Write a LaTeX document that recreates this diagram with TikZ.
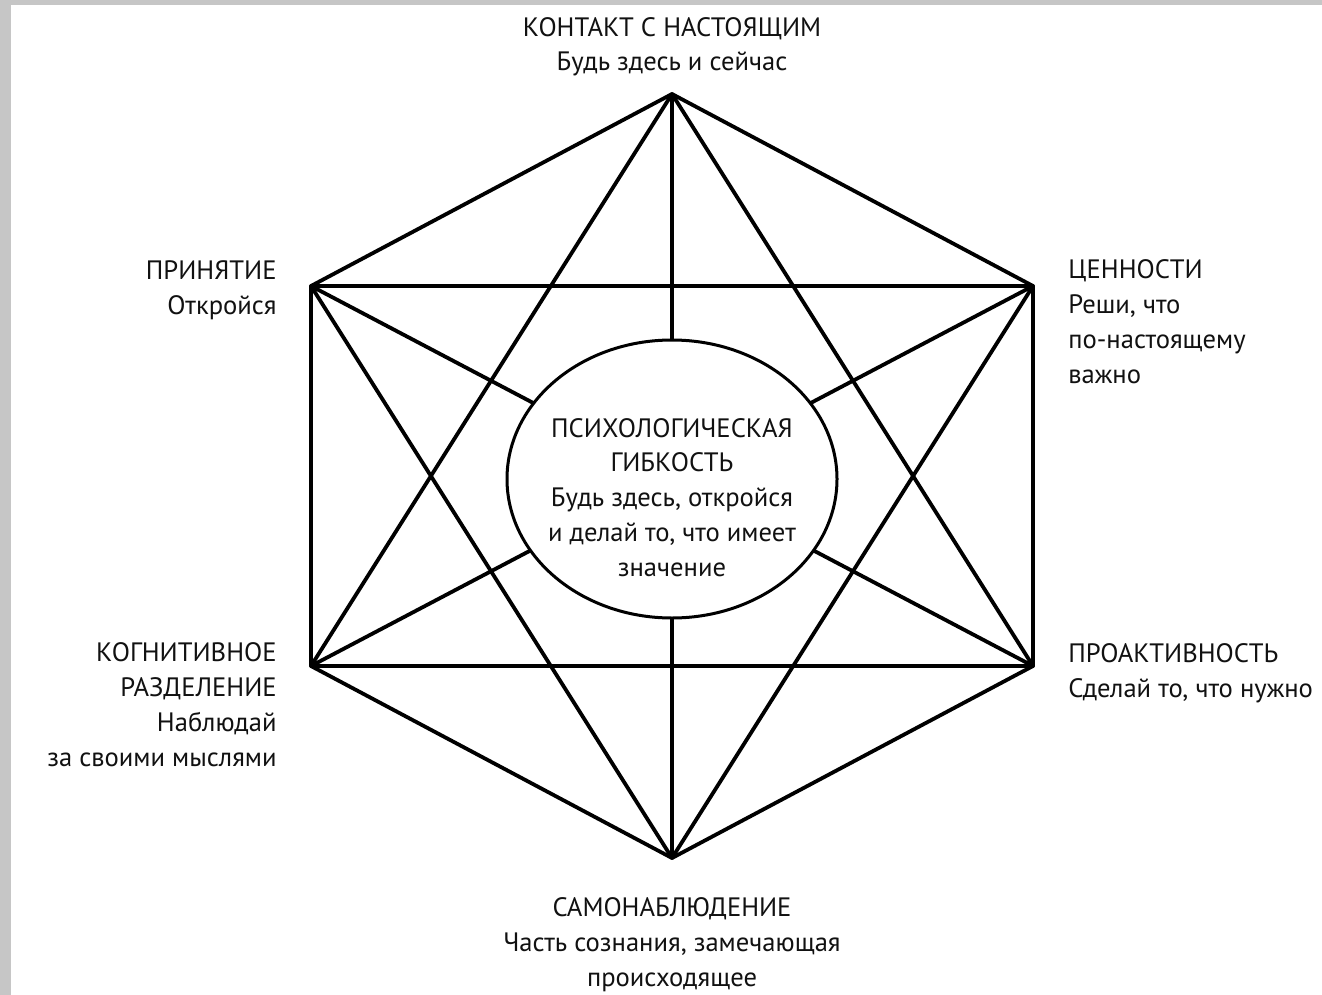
\documentclass[tikz,border=0pt]{standalone}
\usepackage{fontspec}
\setmainfont{PT Sans}
\usetikzlibrary{shapes.geometric}
\definecolor{barg}{HTML}{C6C6C6}
\definecolor{ink}{HTML}{111111}
\begin{document}
\begin{tikzpicture}[x=0.5pt,y=-0.5pt,
  edge/.style={line width=1.9pt, line cap=round, line join=round, draw=black},
  lbl/.style={inner sep=0pt, text=ink, font=\fontsize{13.3}{17.35}\selectfont},
  core/.style={ellipse, draw=black, fill=white, line width=1.5pt, minimum width=165pt, minimum height=139pt, inner sep=0pt}]
\useasboundingbox (0,0) rectangle (1322,995);
\fill[white] (0,0) rectangle (1322,995);
\fill[barg] (0,0) rectangle (11,995);
\fill[barg] (0,0) rectangle (1322,5);
% vertices
\coordinate (T) at (672,94);
\coordinate (UR) at (1033,286);
\coordinate (LR) at (1033,666);
\coordinate (B) at (672,858);
\coordinate (LL) at (311,666);
\coordinate (UL) at (311,286);
% hexagon
\draw[edge] (T)--(UR)--(LR)--(B)--(LL)--(UL)--cycle;
% short diagonals
\draw[edge] (T)--(LR) (T)--(LL) (UR)--(UL) (UR)--(B) (LR)--(LL) (B)--(UL);
% long diagonals (under the ellipse)
\draw[edge] (T)--(B) (UR)--(LL) (UL)--(LR);
% centre
\node[core] (c) at (672,479) {};
\node[lbl, align=center, anchor=base] (ctext) at (672,576)
  {ПСИХОЛОГИЧЕСКАЯ\\ГИБКОСТЬ\\Будь здесь, откройся\\и делай то, что имеет\\значение};
% labels
\node[lbl, align=center, anchor=base] (lT) at (672,71)
  {КОНТАКТ С НАСТОЯЩИМ\\Будь здесь и сейчас};
\node[lbl, align=right, anchor=base east] (lUL) at (277,314)
  {ПРИНЯТИЕ\\Откройся};
\node[lbl, align=left, anchor=base west] (lUR) at (1068,383)
  {ЦЕННОСТИ\\Реши, что\\по-настоящему\\важно};
\node[lbl, align=right, anchor=base east] (lLL) at (277,766)
  {КОГНИТИВНОЕ\\РАЗДЕЛЕНИЕ\\Наблюдай\\за своими мыслями};
\node[lbl, align=left, anchor=base west] (lLR) at (1068,697)
  {ПРОАКТИВНОСТЬ\\Сделай то, что нужно};
\node[lbl, align=center, anchor=base] (lB) at (672,986)
  {САМОНАБЛЮДЕНИЕ\\Часть сознания, замечающая\\происходящее};
\end{tikzpicture}
\end{document}
